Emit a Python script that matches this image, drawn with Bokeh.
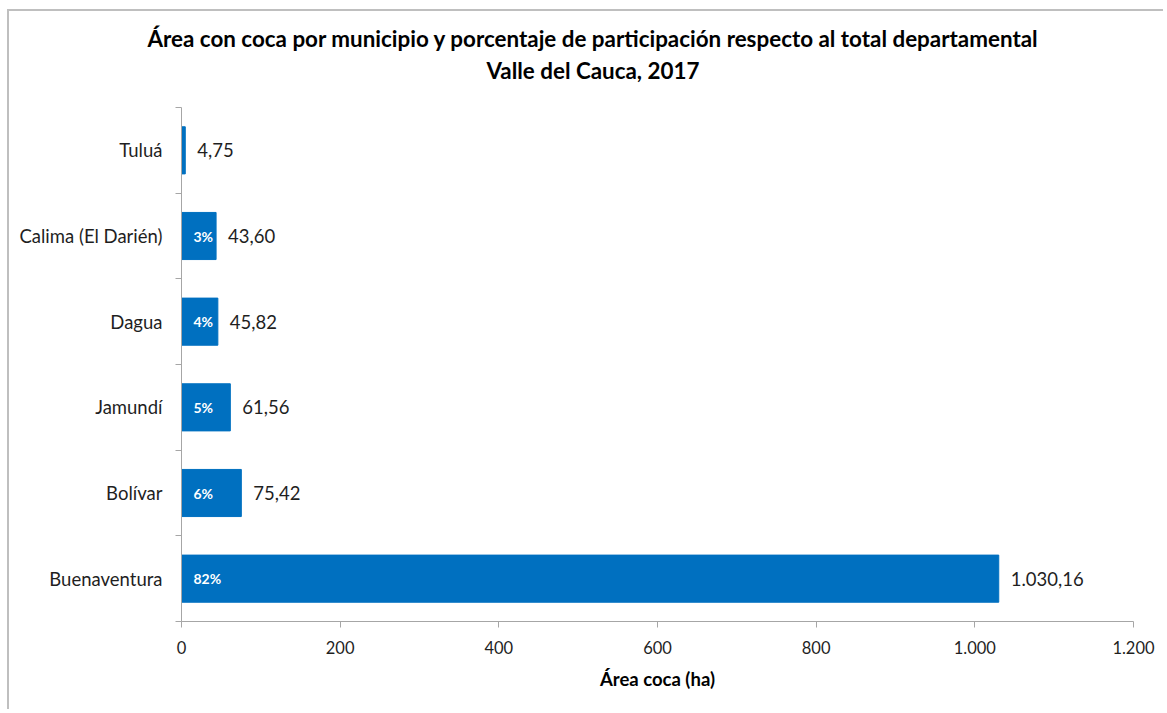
from bokeh.plotting import figure
from bokeh.models import (ColumnDataSource, Range1d, FixedTicker, Title)
from bokeh.core.properties import value
from bokeh.embed import file_html
from bokeh.resources import INLINE

# ---- data (bottom to top) ----
municipios = ["Buenaventura", "Bolívar", "Jamundí", "Dagua", "Calima (El Darién)", "Tuluá"]
area_ha = [1030.16, 75.42, 61.56, 45.82, 43.60, 4.75]
participacion = ["82%", "6%", "5%", "4%", "3%", ""]
x_ticks = [0, 200, 400, 600, 800, 1000, 1200]
x_tick_labels = ["0", "200", "400", "600", "800", "1.000", "1.200"]
title_lines = ["Área con coca por municipio y porcentaje de participación  respecto al total departamental",
               "Valle del Cauca, 2017"]
x_title = "Área coca (ha)"


def es_num(v):
    s = f"{v:,.2f}"
    return s.replace(",", "X").replace(".", ",").replace("X", ".")


FONT = "Lato"
BLUE = "#0070C0"
AXIS_GRAY = "#a6a6a6"
TEXT = "#1f1f1f"

ypos = [i + 0.5 for i in range(len(municipios))]
src = ColumnDataSource(dict(
    y=ypos, area=area_ha, name=municipios,
    lbl=[es_num(v) for v in area_ha], pct=participacion,
    zero=[0] * len(area_ha),
))

p = figure(frame_width=952, frame_height=514,
           min_border_left=172, min_border_right=30,
           min_border_top=96, min_border_bottom=88,
           x_range=Range1d(0, 1200), y_range=Range1d(0, len(municipios)),
           output_backend="svg", toolbar_location=None, tools="",
           title_location=None)
p.styles = {"margin-left": "7px", "margin-top": "9px",
            "border-left": "2px solid #bfbfbf", "border-top": "2px solid #bfbfbf"}

p.hbar(y="y", right="area", left=0, height=0.55, source=src,
       fill_color=BLUE, line_color=BLUE)

p.text(x="area", y="y", text="lbl", source=src, x_offset=12,
       text_align="left", text_baseline="middle",
       text_font=value(FONT), text_font_size="18.5px", text_color=TEXT)
p.text(x="zero", y="y", text="pct", source=src, x_offset=12,
       text_align="left", text_baseline="middle",
       text_font=value(FONT), text_font_size="14px", text_font_style="bold",
       text_color="white")

p.xgrid.visible = False
p.ygrid.visible = False
p.outline_line_color = None
p.border_fill_color = "white"

# x axis
xa = p.xaxis[0]
xa.ticker = FixedTicker(ticks=x_ticks)
xa.major_label_overrides = {t: l for t, l in zip(x_ticks, x_tick_labels)}
xa.axis_line_color = AXIS_GRAY
xa.major_tick_line_color = AXIS_GRAY
xa.major_tick_out = 6
xa.major_tick_in = 0
xa.minor_tick_line_color = None
xa.major_label_text_font = FONT
xa.major_label_text_font_size = "16.5px"
xa.major_label_text_color = TEXT
xa.major_label_standoff = 13
xa.axis_label = x_title
xa.axis_label_text_font = FONT
xa.axis_label_text_font_size = "18.5px"
xa.axis_label_text_font_style = "bold"
xa.axis_label_text_color = "#000000"
xa.axis_label_standoff = 11

# y axis
ya = p.yaxis[0]
ya.ticker = FixedTicker(ticks=ypos, minor_ticks=list(range(len(municipios) + 1)))
ya.major_label_overrides = {y: n for y, n in zip(ypos, municipios)}
ya.axis_line_color = AXIS_GRAY
ya.major_tick_line_color = None
ya.major_tick_out = 0
ya.major_tick_in = 0
ya.minor_tick_line_color = AXIS_GRAY
ya.minor_tick_out = 6
ya.minor_tick_in = 0
ya.major_label_text_font = FONT
ya.major_label_text_font_size = "18.5px"
ya.major_label_text_color = TEXT
ya.major_label_standoff = 13

# title: spacer nearest to plot, then second line, then first line
p.add_layout(Title(text=" ", standoff=18, text_font_size="1px"), "above")
p.add_layout(Title(text=title_lines[1], align="left", offset=305, standoff=6,
                   text_font=FONT, text_font_size="22.4px", text_font_style="bold",
                   text_color="#000000"), "above")
p.add_layout(Title(text=title_lines[0], align="left", offset=-34, standoff=0,
                   text_font=FONT, text_font_size="22.4px", text_font_style="bold",
                   text_color="#000000"), "above")

open("out.html", "w").write(file_html(p, INLINE))
